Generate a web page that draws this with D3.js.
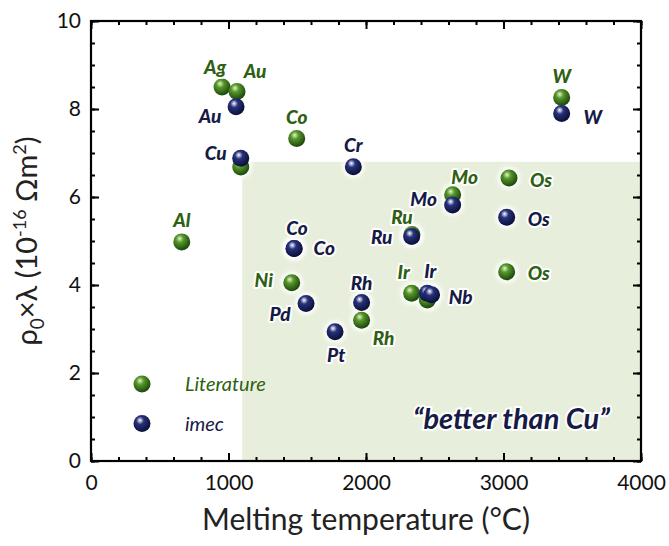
<!DOCTYPE html>
<html><head><meta charset="utf-8">
<script src="https://cdn.jsdelivr.net/npm/d3@7"></script>
<style>
body{margin:0;background:#fff;}
svg{display:block;}
text{font-family:Lato,"Open Sans",sans-serif;}
</style></head>
<body>
<svg id="chart" width="669" height="546"></svg>
<script>
// ---- data ----
const litNames = ["Ag","Au","Co","Cu","Al","Ni","Ru","Mo","Os","Os","Ir","Nb","Rh","W"];
const litTm    = [953,1062,1496,1089,660,1460,2334,2630,3040,3023,2332,2446,1968,3423];
const litRho   = [8.5,8.4,7.33,6.68,4.98,4.05,5.15,6.05,6.43,4.3,3.81,3.66,3.2,8.26];
const litShowLabel = [true,true,true,false,true,true,true,true,true,true,true,false,true,true];

const imecNames = ["Au","Cu","Cr","Co","Co","Mo","Ru","Os","Pd","Pt","Rh","Ir","Nb","W"];
const imecTm    = [1055,1089,1908,1476,1478,2630,2332,3023,1564,1775,1968,2446,2477,3423];
const imecRho   = [8.05,6.88,6.69,4.83,4.83,5.82,5.1,5.54,3.58,2.94,3.6,3.81,3.78,7.9];

const xTicks = [0,1000,2000,3000,4000];
const yTicks = [0,2,4,6,8,10];
const regionTm = [1100,4000];
const regionRho = [0,6.8];
const legendLabels = ["Literature","imec"];
const regionText = "\u201cbetter than Cu\u201d";

// label offsets (px) for each point label
const litOff = [[-7,-20],[18,-20],[0,-21],[0,0],[0,-22],[-28,-2],[-10,-17],[12,-17],[32,2],[32,2],[-8,-21],[0,0],[22,18],[0,-21]];
const imecOff = [[[-26,10]],[[-25,-5]],[[0,-21]],[[3,-20]],[[30,0]],[[-29,-6]],[[-30,1]],[[32,2]],[[-26,11]],[[1,24]],[[0,-19]],[[3,-22]],[[29,3]],[[31,4]]];

// ---- chart ----
const svg = d3.select("#chart");
const x = d3.scaleLinear().domain([0,4000]).range([91,641]);
const y = d3.scaleLinear().domain([0,10]).range([461,21]);

const defs = svg.append("defs");
function grad(id, c0, c1, c2){
  const g = defs.append("radialGradient").attr("id",id).attr("cx","40%").attr("cy","35%").attr("r","65%").attr("fx","38%").attr("fy","30%");
  g.append("stop").attr("offset","0%").attr("stop-color",c0);
  g.append("stop").attr("offset","35%").attr("stop-color",c1);
  g.append("stop").attr("offset","100%").attr("stop-color",c2);
}
grad("gGreen","#e4f5c8","#56962a","#1c460b");
grad("gBlue","#ffffff","#27327c","#0a0f35");
defs.append("filter").attr("id","glow").attr("x","-50%").attr("y","-50%").attr("width","200%").attr("height","200%")
  .append("feGaussianBlur").attr("stdDeviation",2.2);

const greenText = "#2f5f12", navyText = "#161b45";

// shaded region
svg.append("rect")
  .attr("x", x(regionTm[0])).attr("y", y(regionRho[1]))
  .attr("width", x(regionTm[1]) - x(regionTm[0]))
  .attr("height", y(regionRho[0]) - y(regionRho[1]))
  .attr("fill","#e7eedb");

// axes
function axisStyle(g){ g.select(".domain").remove(); g.selectAll("line").attr("stroke","#000").attr("stroke-width",2); }
const minorX = d3.range(0,4001,200), minorY = d3.range(0,10.01,0.5);
svg.append("g").attr("transform",`translate(0,${y(0)})`).call(d3.axisBottom(x).tickValues(minorX).tickSize(-4).tickFormat("")).call(axisStyle);
svg.append("g").attr("transform",`translate(0,${y(10)})`).call(d3.axisTop(x).tickValues(minorX).tickSize(-4).tickFormat("")).call(axisStyle);
svg.append("g").attr("transform",`translate(${x(0)},0)`).call(d3.axisLeft(y).tickValues(minorY).tickSize(-4).tickFormat("")).call(axisStyle);
svg.append("g").attr("transform",`translate(${x(4000)},0)`).call(d3.axisRight(y).tickValues(minorY).tickSize(-4).tickFormat("")).call(axisStyle);

const xb = svg.append("g").attr("transform",`translate(0,${y(0)})`).call(d3.axisBottom(x).tickValues(xTicks).tickSize(-8).tickPadding(14).tickFormat(d3.format("d")));
xb.call(axisStyle);
xb.selectAll("text").attr("font-size",21).attr("fill","#111").attr("font-family","Lato");
svg.append("g").attr("transform",`translate(0,${y(10)})`).call(d3.axisTop(x).tickValues(xTicks).tickSize(-8).tickFormat("")).call(axisStyle);
const yl = svg.append("g").attr("transform",`translate(${x(0)},0)`).call(d3.axisLeft(y).tickValues(yTicks).tickSize(-8).tickPadding(10).tickFormat(d3.format("d")));
yl.call(axisStyle);
yl.selectAll("text").attr("font-size",21).attr("fill","#111").attr("font-family","Lato");
svg.append("g").attr("transform",`translate(${x(4000)},0)`).call(d3.axisRight(y).tickValues(yTicks).tickSize(-8).tickFormat("")).call(axisStyle);

svg.append("rect").attr("x",x(0)).attr("y",y(10)).attr("width",x(4000)-x(0)).attr("height",y(0)-y(10))
  .attr("fill","none").attr("stroke","#000").attr("stroke-width",2.2);

// axis titles
svg.append("text").attr("x",(x(0)+x(4000))/2).attr("y",530).attr("text-anchor","middle")
  .attr("font-size",30).attr("fill","#222").text("Melting temperature (\u00b0C)");
const yt = svg.append("text").attr("transform",`translate(37,${(y(0)+y(10))/2}) rotate(-90)`).attr("text-anchor","middle")
  .attr("font-size",29).attr("fill","#222");
yt.append("tspan").text("\u03c1");
yt.append("tspan").attr("font-size",19).attr("dy",7).text("0");
yt.append("tspan").attr("dy",-7).text("\u00d7\u03bb (10");
yt.append("tspan").attr("font-size",18).attr("dy",-11).text("-16");
yt.append("tspan").attr("dy",11).text(" \u03a9m");
yt.append("tspan").attr("font-size",18).attr("dy",-11).text("2");
yt.append("tspan").attr("dy",11).text(")");

// region text
svg.append("text").attr("x",x(3700)+10).attr("y",y(0.72)).attr("text-anchor","end")
  .attr("font-size",29).attr("font-weight","bold").attr("font-style","italic").attr("fill",navyText)
  .attr("stroke","#fff").attr("stroke-width",4).attr("paint-order","stroke").text(regionText);

// points
const lit = litNames.map((n,i)=>({n, t:litTm[i], r:litRho[i], show:litShowLabel[i], off:litOff[i]}));
const imec = imecNames.map((n,i)=>({n, t:imecTm[i], r:imecRho[i], offs:imecOff[i]}));

function halos(data){
  svg.append("g").selectAll("circle").data(data).join("circle")
    .attr("cx",d=>x(d.t)).attr("cy",d=>y(d.r)).attr("r",11).attr("fill","#fff").attr("filter","url(#glow)");
}
halos(lit); halos(imec);

function balls(data, fill){
  svg.append("g").selectAll("circle").data(data).join("circle")
    .attr("cx",d=>x(d.t)).attr("cy",d=>y(d.r)).attr("r",8.5).attr("fill",fill);
}
balls(lit, "url(#gGreen)");
balls(imec, "url(#gBlue)");

// legend
const legY = [y(1.75), y(0.85)];
const legX = 142;
svg.append("circle").attr("cx",legX).attr("cy",legY[0]).attr("r",8.5).attr("fill","url(#gGreen)");
svg.append("circle").attr("cx",legX).attr("cy",legY[1]).attr("r",8.5).attr("fill","url(#gBlue)");
svg.append("text").attr("x",185).attr("y",legY[0]+7).attr("font-size",20).attr("font-style","italic").attr("fill",greenText).text(legendLabels[0]);
svg.append("text").attr("x",185).attr("y",legY[1]+7).attr("font-size",20).attr("font-style","italic").attr("fill",navyText).text(legendLabels[1]);

// labels
function label(px,py,txt,col){
  svg.append("text").attr("x",px).attr("y",py).attr("text-anchor","middle").attr("dy","0.35em")
    .attr("font-size",19).attr("font-weight","900").attr("font-style","italic").attr("fill",col)
    .attr("stroke","#fff").attr("stroke-width",4).attr("stroke-linejoin","round").attr("paint-order","stroke").text(txt);
}
lit.forEach(d=>{ if(d.show) label(x(d.t)+d.off[0], y(d.r)+d.off[1], d.n, greenText); });
imec.forEach(d=>{ d.offs.forEach(o=>label(x(d.t)+o[0], y(d.r)+o[1], d.n, navyText)); });
</script>
</body></html>
